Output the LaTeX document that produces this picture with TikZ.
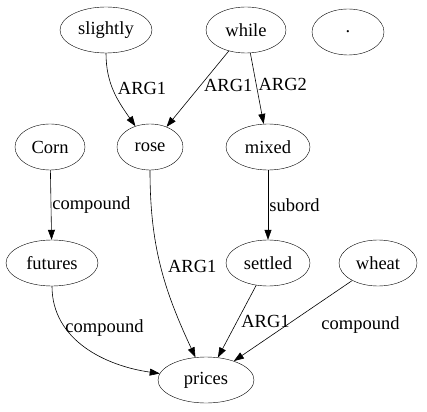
\documentclass[tikz,border=0pt]{standalone}
\usepackage{fontspec}
\setmainfont{Liberation Serif}
\usetikzlibrary{shapes.geometric,arrows.meta}
\begin{document}
\begin{tikzpicture}[x=1pt,y=-1pt,
    word/.style ={ellipse, draw, inner sep=0pt, minimum height=46pt, font=\fontsize{18.5}{20}\selectfont},
    lbl/.style ={font=\fontsize{18.5}{20}\selectfont, inner sep=1pt, anchor=west},
    dep/.style ={-{Triangle[length=10pt,width=7pt]}, semithick}]
  \useasboundingbox (0,0) rectangle (427,411);
  \node[word, minimum width=92pt] (slightly) at (106,30)  {slightly};
  \node[word, minimum width=80pt] (while)    at (246,30)  {while};
  \node[word, minimum width=72pt] (dot)      at (348,32)  {.};
  \node[word, minimum width=70pt] (corn)     at (50,147)  {Corn};
  \node[word, minimum width=66pt] (rose)     at (150,147) {rose};
  \node[word, minimum width=84pt] (mixed)    at (268,147) {mixed};
  \node[word, minimum width=92pt] (futures)  at (52,263)  {futures};
  \node[word, minimum width=84pt] (settled)  at (268,263) {settled};
  \node[word, minimum width=78pt] (wheat)    at (378,263) {wheat};
  \node[word, minimum width=96pt] (prices)   at (206,380) {prices};
  \draw[dep] (slightly) to[out=-90,in=125] node[lbl, pos=0.45, xshift=4pt] {ARG1} (rose);
  \draw[dep] (while) -- node[lbl, pos=0.45, xshift=2pt] {ARG1} (rose);
  \draw[dep] (while) -- node[lbl, pos=0.45, xshift=1pt] {ARG2} (mixed);
  \draw[dep] (corn) -- node[lbl] {compound} (futures);
  \draw[dep] (rose) to[out=-90,in=115] node[lbl, pos=0.5, xshift=6pt] {ARG1} (prices);
  \draw[dep] (mixed) -- node[lbl] {subord} (settled);
  \draw[dep] (futures) to[out=-90,in=172] node[lbl, pos=0.3, xshift=-1pt] {compound} (prices);
  \draw[dep] (settled) -- node[lbl, pos=0.5, xshift=3pt] {ARG1} (prices);
  \draw[dep] (wheat) -- node[lbl, pos=0.55, xshift=33pt] {compound} (prices);
\end{tikzpicture}
\end{document}
